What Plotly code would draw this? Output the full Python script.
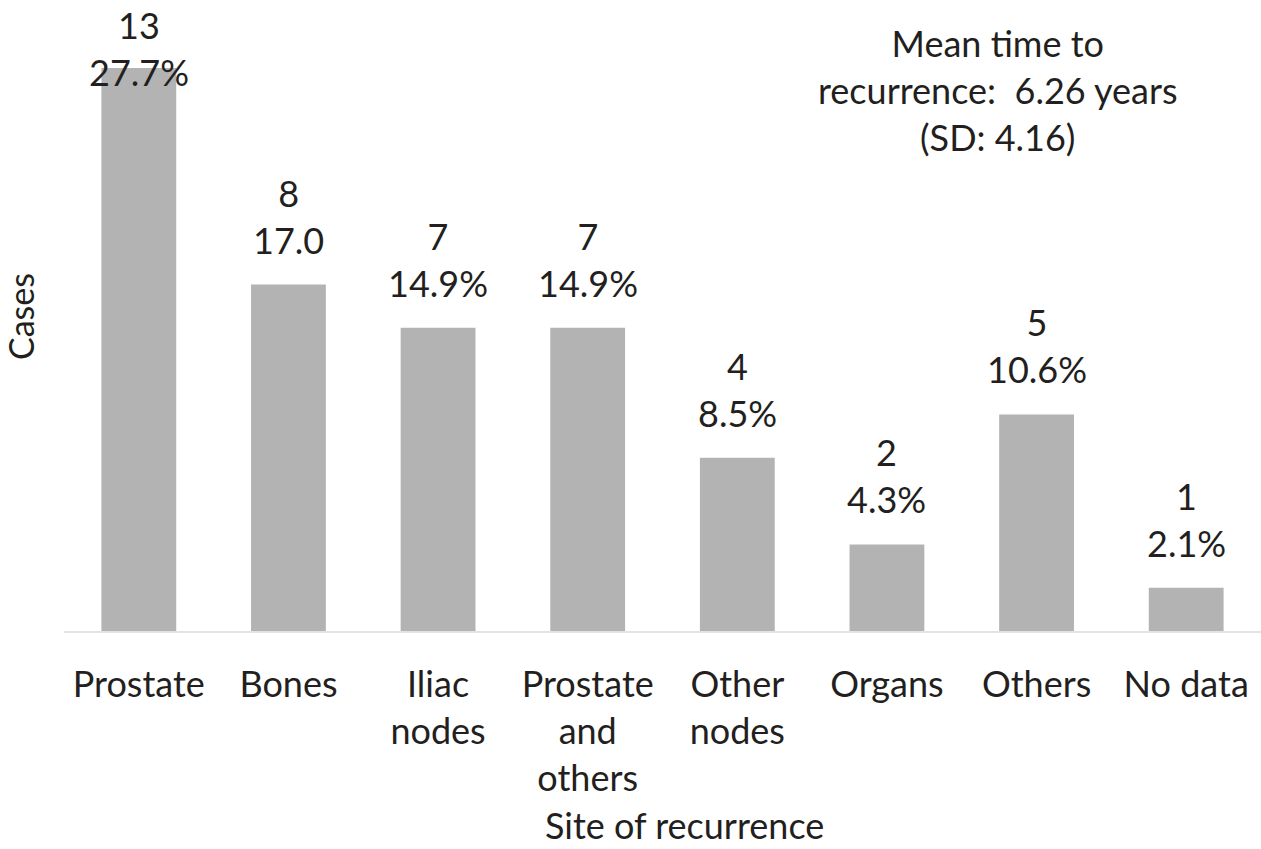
import plotly.graph_objects as go

categories = ["Prostate", "Bones", "Iliac<br>nodes", "Prostate<br>and<br>others",
              "Other<br>nodes", "Organs", "Others", "No data"]
cases = [13, 8, 7, 7, 4, 2, 5, 1]
pct_labels = ["27.7%", "17.0", "14.9%", "14.9%", "8.5%", "4.3%", "10.6%", "2.1%"]
note_text = "Mean time to<br>recurrence:  6.26 years<br>(SD: 4.16)"
x_title = "Site of recurrence"
y_title = "Cases"

W, H = 1261, 849
ML, MR, MT, MB = 64, 0, 0, 218
YMAX = 14.57
FONT = "Lato"
FS = 36
TXT = "#231f20"

plot_h = H - MT - MB

fig = go.Figure()
fig.add_trace(go.Bar(
    x=categories, y=cases,
    marker=dict(color="#b3b3b3", line=dict(width=0)),
    hoverinfo="skip",
))

# data labels
for c, v, p in zip(categories, cases, pct_labels):
    bar_top = MT + plot_h * (1 - v / YMAX)
    bottom_center = bar_top - 44
    top_center = bottom_center - 48
    shift = 21
    if top_center < 25:
        shift -= (25 - top_center)
    fig.add_annotation(x=c, y=v, xref="x", yref="y", text=f"{v}<br>{p}",
                       showarrow=False, yanchor="bottom", yshift=shift,
                       font=dict(family=FONT, size=FS, color=TXT))

fig.add_annotation(x=(998 - ML) / (W - ML - MR), y=1, xref="paper", yref="paper",
                   text=note_text, showarrow=False, xanchor="center", yanchor="top",
                   yshift=-19, font=dict(family=FONT, size=FS, color=TXT))

fig.add_annotation(x=(684 - ML) / (W - ML - MR), y=-(825 - MT - plot_h) / plot_h,
                   xref="paper", yref="paper", text=x_title, showarrow=False,
                   xanchor="center", yanchor="middle",
                   font=dict(family=FONT, size=FS, color=TXT))

fig.add_annotation(x=(20 - ML) / (W - ML - MR), y=1 - (317 - MT) / plot_h,
                   xref="paper", yref="paper", text=y_title, showarrow=False,
                   textangle=-90, xanchor="center", yanchor="middle",
                   font=dict(family=FONT, size=FS - 2, color=TXT))

fig.update_layout(
    width=W, height=H,
    margin=dict(l=ML, r=MR, t=MT, b=MB),
    paper_bgcolor="white", plot_bgcolor="white",
    bargap=0.5, showlegend=False,
    font=dict(family=FONT, size=FS, color=TXT),
    xaxis=dict(showline=True, linecolor="#e3e3e3", linewidth=2, ticks="",
               showgrid=False, tickfont=dict(family=FONT, size=FS, color=TXT),
               ticklabelstandoff=21, automargin=False, fixedrange=True),
    yaxis=dict(range=[0, YMAX], showticklabels=False, showgrid=False,
               zeroline=False, showline=False, ticks="", fixedrange=True,
               automargin=False),
)

fig.write_html("out.html", config={"displayModeBar": False},
               post_script="document.body.style.margin='0';document.body.style.overflow='hidden';")
